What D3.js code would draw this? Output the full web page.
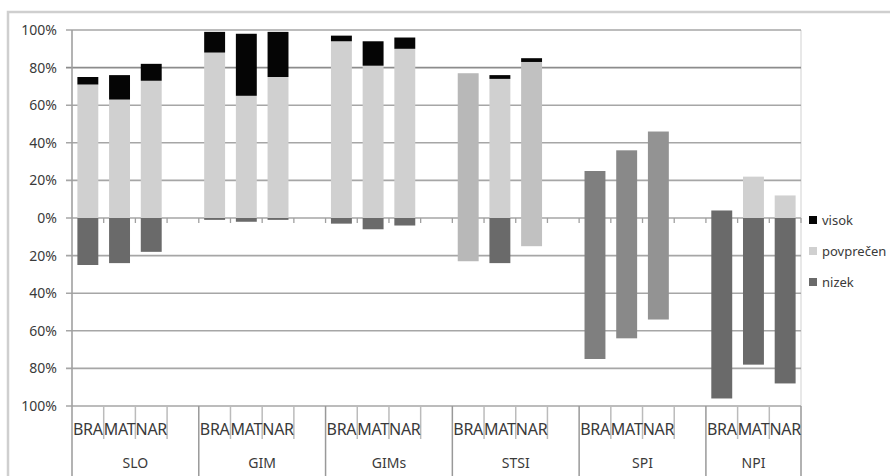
<!DOCTYPE html>
<html>
<head>
<meta charset="utf-8">
<script src="https://cdnjs.cloudflare.com/ajax/libs/d3/7.8.5/d3.min.js"></script>
<style>
  body { margin: 0; background: #fff; }
  text { font-family: "Noto Sans", sans-serif; fill: #3a3a3a; }
</style>
</head>
<body>
<script>
var w = 890,
    h = 476;

// school types and subjects
var groups = ["SLO", "GIM", "GIMs", "STSI", "SPI", "NPI"];
var subjects = ["BRA", "MAT", "NAR"];

// share of students per level (%), one row per group, BRA/MAT/NAR
var visok     = [[4, 13, 9], [11, 33, 24], [3, 13, 6], [0, 2, 2], [0, 0, 0], [0, 0, 0]];
var povprecen = [[71, 63, 73], [88, 65, 75], [94, 81, 90], [77, 74, 83], [25, 36, 46], [4, 22, 12]];
var nizek     = [[25, 24, 18], [1, 2, 1], [3, 6, 4], [23, 24, 15], [75, 64, 54], [96, 78, 88]];

var yTicks = [-100, -80, -60, -40, -20, 0, 20, 40, 60, 80, 100];
var legendItems = ["visok", "povprečen", "nizek"];

// colours
var colVisok = "#050505",
    colPovp = "#d0d0d0",
    colNizek = "#6a6a6a";
// some bars came out in other greys in the source
var tone = {
  "STSI|BRA": "#b8b8b8",
  "STSI|NAR": "#c1c1c1",
  "SPI|BRA": "#7f7f7f",
  "SPI|MAT": "#898989",
  "SPI|NAR": "#939393",
  "NPI|BRA": "#6a6a6a"
};

var svg = d3.select("body")
            .append("svg")
            .attr("width", w)
            .attr("height", h);

// outer frame
svg.append("path")
   .attr("d", "M8," + h + "V12H" + w)
   .style("fill", "none")
   .style("stroke", "#cfcfcf")
   .style("stroke-width", 2.5);

// build slots: 3 subjects + a blank slot after each group (but the last)
var slots = [];
groups.forEach(function(g, gi) {
  subjects.forEach(function(s) { slots.push(g + "|" + s); });
  if (gi < groups.length - 1) slots.push(g + "|gap");
});

var x = d3.scaleBand()
          .domain(slots)
          .range([72, 801])
          .paddingInner(0.34)
          .paddingOuter(0.17);

var y = d3.scaleLinear()
          .domain([-100, 100])
          .range([406, 30]);

var step = x.step();

// plot right border
svg.append("line")
   .attr("x1", 801).attr("x2", 801)
   .attr("y1", y(100)).attr("y2", y(-100))
   .style("stroke", "#e0e0e0")
   .style("stroke-width", 1.5);

// gridlines with ticks
svg.selectAll(".grid")
   .data(yTicks)
   .enter()
   .append("line")
   .attr("x1", 66)
   .attr("x2", 801)
   .attr("y1", function(d) { return y(d); })
   .attr("y2", function(d) { return y(d); })
   .style("stroke", function(d) { return d === 80 ? "#8c8c8c" : "#a6a6a6"; })
   .style("stroke-width", 1.6);

// y labels
svg.selectAll(".ylab")
   .data(yTicks)
   .enter()
   .append("text")
   .attr("x", 57)
   .attr("y", function(d) { return y(d) + 5; })
   .attr("text-anchor", "end")
   .style("font-size", "14px")
   .text(function(d) { return Math.abs(d) + "%"; });

// bars
var bars = [];
groups.forEach(function(g, gi) {
  subjects.forEach(function(s, si) {
    var key = g + "|" + s;
    var p = povprecen[gi][si], v = visok[gi][si], n = nizek[gi][si];
    var t = tone[key];
    bars.push({key: key, y0: -n, y1: 0, fill: t || colNizek});
    bars.push({key: key, y0: 0, y1: p, fill: t || colPovp});
    if (v > 0) bars.push({key: key, y0: p, y1: p + v, fill: colVisok});
  });
});

svg.selectAll(".bar")
   .data(bars)
   .enter()
   .append("rect")
   .attr("x", function(d) { return x(d.key); })
   .attr("width", x.bandwidth())
   .attr("y", function(d) { return y(d.y1); })
   .attr("height", function(d) { return y(d.y0) - y(d.y1); })
   .style("fill", function(d) { return d.fill; });

// y axis line
svg.append("line")
   .attr("x1", 72).attr("x2", 72)
   .attr("y1", y(100)).attr("y2", h)
   .style("stroke", "#a0a0a0")
   .style("stroke-width", 1.6);

// small ticks on the zero line at each slot boundary
var bounds = d3.range(1, slots.length + 1).map(function(i) { return 72 + i * step; });
svg.selectAll(".zt")
   .data(bounds)
   .enter()
   .append("line")
   .attr("x1", function(d) { return d; })
   .attr("x2", function(d) { return d; })
   .attr("y1", y(0))
   .attr("y2", y(0) + 5)
   .style("stroke", "#a0a0a0")
   .style("stroke-width", 1.3);

// category axis dividers
svg.selectAll(".div")
   .data(bounds)
   .enter()
   .append("line")
   .attr("x1", function(d) { return d; })
   .attr("x2", function(d) { return d; })
   .attr("y1", y(-100))
   .attr("y2", function(d, i) {
      var isGroup = (i + 1) % 4 === 0 || i === bounds.length - 1;
      return isGroup ? h : 439;
    })
   .style("stroke", function(d, i) {
      var isGroup = (i + 1) % 4 === 0 || i === bounds.length - 1;
      return isGroup ? "#999" : "#bbb";
    })
   .style("stroke-width", 1.5);

// subject labels
svg.selectAll(".sub")
   .data(slots.filter(function(s) { return s.indexOf("|gap") < 0; }))
   .enter()
   .append("text")
   .attr("x", function(d) { return x(d) + x.bandwidth() / 2; })
   .attr("y", 435)
   .attr("text-anchor", "middle")
   .style("font-size", "16px")
   .style("letter-spacing", "-0.3px")
   .text(function(d) { return d.split("|")[1]; });

// group labels, centred on the group's span
svg.selectAll(".grp")
   .data(groups)
   .enter()
   .append("text")
   .attr("x", function(d, i) {
      var x0 = x(d + "|BRA") - x.paddingOuter() * step;
      var x1 = i < groups.length - 1 ? x0 + 4 * step : 801;
      return (x0 + x1) / 2;
    })
   .attr("y", 468)
   .attr("text-anchor", "middle")
   .style("font-size", "14px")
   .text(function(d) { return d; });

// legend
var legColors = [colVisok, colPovp, colNizek];
var leg = svg.selectAll(".leg")
             .data(legendItems)
             .enter()
             .append("g")
             .attr("transform", function(d, i) { return "translate(809," + (220 + i * 31) + ")"; });

leg.append("rect")
   .attr("x", 0).attr("y", -4)
   .attr("width", 8).attr("height", 8)
   .style("fill", function(d, i) { return legColors[i]; });

leg.append("text")
   .attr("x", 13)
   .attr("y", 5)
   .style("font-size", "13px")
   .text(function(d) { return d; });
</script>
</body>
</html>
